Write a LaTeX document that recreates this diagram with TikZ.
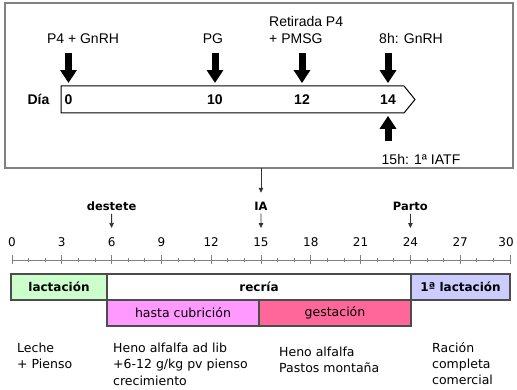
\documentclass[tikz,border=0pt]{standalone}
\usepackage{fontspec}
\setmainfont{Liberation Sans}
\newfontfamily\verd{DejaVu Sans}
\usepackage{tikz}
\usetikzlibrary{arrows.meta}
\definecolor{lactgreen}{HTML}{CCFFCC}
\definecolor{lactblue}{HTML}{CCCCFF}
\definecolor{cubpink}{HTML}{FF99FF}
\definecolor{gestrose}{HTML}{FF6699}

\begin{document}
\begin{tikzpicture}[x=1pt,y=1pt,
  lbl/.style={font=\fontsize{14}{17}\selectfont},
  daynum/.style={font=\fontsize{14}{17}\selectfont\bfseries},
  bigarrow/.style={line width=7pt,-{Triangle[width=16pt,length=13pt]}},
  thinarrow/.style={black!80,line width=0.8pt,-{Triangle[width=4.5pt,length=5pt]}},
  axis/.style={gray,line width=0.8pt},
  mnum/.style={font=\verd\fontsize{12}{14}\selectfont},
  event/.style={font=\verd\bfseries\fontsize{11.5}{14}\selectfont},
  bar/.style={draw=black!70,line width=1.2pt,outer sep=0pt,minimum height=26pt,
    font=\verd\bfseries\fontsize{12}{14}\selectfont},
  subbar/.style={bar,font=\verd\fontsize{12.5}{14}\selectfont},
  food/.style={anchor=north west,inner sep=0pt,align=left,
    font=\verd\fontsize{12.5}{16.5}\selectfont}]
  \useasboundingbox (0,0) rectangle (517,390);
  % protocolo de sincronizacion
  \node[draw=gray,line width=1.2pt,inner sep=0pt,outer sep=0pt,
    minimum width=508pt,minimum height=165pt] (protocol) at (259,304.5) {};
  \draw[line width=1pt] (61,304) -- (404,304) -- (415,290.5) -- (404,277)
    -- (61,277) -- cycle;
  \node[daynum] (dia) at (38.5,290.5) {Día};
  \node[daynum] (d0) at (68.5,290.5) {0};
  \node[daynum] (d10) at (215,290.5) {10};
  \node[daynum] (d12) at (302,290.5) {12};
  \node[daynum] (d14) at (388,290.5) {14};
  \node[lbl] (lp4) at (83,351) {P4 + GnRH};
  \node[lbl] (lpg) at (213,351) {PG};
  \node[lbl,anchor=west,inner xsep=0pt,align=left] (lret) at (269,359.5)
    {Retirada P4\\+ PMSG};
  \node[lbl] (lgn) at (411,351) {8h: GnRH};
  \node[lbl] (liatf) at (421,230) {15h: 1ª IATF};
  \coordinate (a0) at (68.5,337);
  \coordinate (a10) at (215,337);
  \coordinate (a12) at (302,337);
  \coordinate (a14) at (388,337);
  \coordinate (b14) at (388,249);
  \foreach \d in {0,10,12,14}
    \draw[bigarrow,shorten >=8pt] (a\d) -- (d\d);
  \draw[bigarrow,shorten >=8pt] (b14) -- (d14);
  % eje de meses
  \draw[axis] (12,130) -- (510,130);
  \foreach \m in {0,...,30}
    \draw[axis] (12+16.6*\m,128) -- (12+16.6*\m,132);
  \foreach \m in {0,3,...,30}
    \draw[axis] (12+16.6*\m,125.5) -- (12+16.6*\m,134.5);
  \foreach \m in {0,3,...,27}
    \node[mnum] (m\m) at (12+16.6*\m,148) {\m};
  \node[mnum] (m30) at (506,148) {30};
  \node[event] (destete) at (111.6,184) {destete};
  \node[event] (ia) at (261,184) {IA};
  \node[event] (parto) at (410.4,184) {Parto};
  \draw[thinarrow,shorten >=6pt] (destete) -- (m6);
  \draw[thinarrow,shorten >=6pt] (ia) -- (m15);
  \draw[thinarrow,shorten >=6pt] (parto) -- (m24);
  \draw[thinarrow,shorten >=5.5pt] (protocol.south -| ia) -- (ia);
  % fases
  \node[bar,fill=lactgreen,minimum width=96pt] (lact) at (59,103) {lactación};
  \node[bar,fill=white,minimum width=304pt] (recria) at (259,103) {recría};
  \node[bar,fill=lactblue,minimum width=99pt] (lact1) at (460.5,103) {1ª lactación};
  \node[subbar,fill=cubpink,minimum width=152pt] (cubr) at (183,77) {hasta cubrición};
  \node[subbar,fill=gestrose,minimum width=152pt] (gest) at (335,77) {gestación};
  % alimentacion
  \node[food] (f1) at (17,47.5) {Leche\\+ Pienso};
  \node[food] (f2) at (113,47.5) {Heno alfalfa ad lib\\+6-12 g/kg pv pienso\\crecimiento};
  \node[food] (f3) at (279,43.5) {Heno alfalfa\\Pastos montaña};
  \node[food,font=\verd\fontsize{12.5}{16}\selectfont] (f4) at (432,48)
    {Ración\\completa\\comercial};
\end{tikzpicture}
\end{document}
